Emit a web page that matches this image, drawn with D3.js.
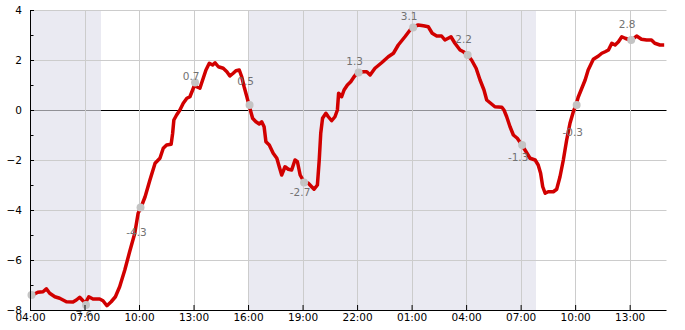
<!DOCTYPE html>
<html>
<head>
<meta charset="utf-8">
<script src="https://cdn.jsdelivr.net/npm/d3@7"></script>
<style>
  body { margin:0; background:white; }
  text { font-family:"DejaVu Sans", sans-serif; }
</style>
</head>
<body>
<svg></svg>
<script>

// minutes after 04:00 on the first day
var lineMinutes = [0,26,43,54,65,82,98,120,142,153,164,175,183,194,208,230,241,254,268,282,
  296,313,329,346,357,366,380,396,413,429,440,451,466,471,475,484,495,506,518,528,
  537,545,550,561,570,581,592,603,611,622,638,650,660,671,680,691,699,707,716,723,
  735,746,757,765,773,779,790,803,815,823,831,842,853,864,875,883,892,905,919,930,
  938,949,955,960,966,977,985,996,1007,1015,1019,1029,1037,1048,1059,1070,1082,1101,1112,1123,
  1139,1161,1183,1200,1216,1238,1255,1266,1282,1299,1315,1328,1343,1359,1370,1381,1390,1403,1420,1431,
  1445,1458,1473,1486,1499,1508,1524,1535,1558,1565,1574,1585,1596,1609,1624,1638,1651,1668,1678,1686,
  1693,1701,1711,1728,1739,1750,1761,1772,1783,1794,1803,1810,1822,1833,1843,1860,1877,1888,1899,1910,
  1921,1932,1943,1954,1965,1981,1994,2003,2019,2036,2052,2063,2080,2094];
var lineValues = [-7.45,-7.29,-7.27,-7.15,-7.33,-7.47,-7.53,-7.67,-7.68,-7.6,-7.49,-7.63,-7.72,-7.47,-7.56,-7.56,-7.63,-7.83,-7.67,-7.47,
  -7.07,-6.4,-5.67,-4.93,-4.13,-3.91,-3.47,-2.8,-2.13,-1.93,-1.53,-1.4,-1.37,-0.93,-0.4,-0.2,0,0.27,0.47,0.53,
  0.8,1.05,0.93,0.87,1.2,1.6,1.87,1.8,1.89,1.73,1.67,1.53,1.36,1.47,1.57,1.6,1.33,0.93,0.53,0.2,
  -0.33,-0.47,-0.56,-0.47,-0.67,-1.27,-1.4,-1.73,-1.93,-2.27,-2.6,-2.27,-2.37,-2.4,-2.0,-2.07,-2.6,-2.88,-2.93,-3.07,
  -3.17,-3.0,-2.0,-0.93,-0.33,-0.13,-0.27,-0.43,-0.27,0,0.67,0.53,0.8,1.0,1.13,1.33,1.5,1.53,1.53,1.4,
  1.67,1.89,2.13,2.27,2.6,2.93,3.2,3.33,3.4,3.37,3.33,3.07,2.96,2.96,2.8,2.87,2.93,2.67,2.4,2.33,
  2.2,2.0,1.67,1.2,0.8,0.4,0.24,0.13,0.11,0,-0.27,-0.67,-1.0,-1.13,-1.4,-1.67,-1.93,-2.0,-2.2,-2.53,
  -3.07,-3.33,-3.27,-3.27,-3.17,-2.67,-2.0,-1.2,-0.53,-0.07,0.2,0.51,0.87,1.2,1.6,2.03,2.16,2.27,2.33,2.4,
  2.67,2.6,2.73,2.93,2.87,2.8,2.87,2.96,2.83,2.8,2.8,2.67,2.6,2.6];

var markerMinutes = [5,185,365,545,725,905,1085,1265,1445,1625,1805,1985];
var markerValues = [-7.4,-7.8,-3.9,1.1,0.2,-2.9,1.5,3.3,2.2,-1.4,0.2,2.8];
var labelValues = [null,-7.6,-4.3,0.7,0.5,-2.7,1.3,3.1,2.2,-1.3,-0.3,2.8];

var bandMinutes = [[0,234],[720,1671]];
var yTicks = [-8,-6,-4,-2,0,2,4];
var yMinorTicks = [-7,-5,-3,-1,1,3];

var start = new Date(2024,0,1,4,0);
var toDate = function(m) { return new Date(start.getTime()+m*60000); };

var screen = { width:685, height:330 };
var margins = { top:10, bottom:20, left:30, right:19 };
var width = screen.width - margins.left - margins.right;
var height = screen.height - margins.top - margins.bottom;

var svg = d3.select("svg")
  .attr("width",screen.width)
  .attr("height",screen.height);

var xScale = d3.scaleTime()
  .domain([start,toDate(2100)])
  .range([0,width]);
var yScale = d3.scaleLinear().domain([-8,4]).range([height,0]);

//half pixel so 1px lines stay crisp
var plot = svg.append("g")
  .attr("transform","translate("+margins.left+","+margins.top+")");
var grid = plot.append("g").attr("transform","translate(0.5,0.5)");

svg.append("defs").append("clipPath").attr("id","clip")
  .append("rect").attr("x",0).attr("y",0).attr("width",width).attr("height",height);
svg.select("defs").append("clipPath").attr("id","labelclip")
  .append("rect").attr("x",-10).attr("y",-10).attr("width",width+20).attr("height",height+16);

var drawBands = function(opacity)
{
  grid.append("g").selectAll("rect")
    .data(bandMinutes)
    .enter()
    .append("rect")
    .attr("x",function(d){ return Math.round(xScale(toDate(d[0])))-0.5;})
    .attr("y",-0.5)
    .attr("width",function(d){ return Math.round(xScale(toDate(d[1]))-xScale(toDate(d[0])));})
    .attr("height",height)
    .attr("fill","#eaeaf2")
    .attr("fill-opacity",opacity);
}
drawBands(1);

//zero line, dimmed inside the bands
grid.append("line")
  .attr("x1",0).attr("x2",width)
  .attr("y1",yScale(0)).attr("y2",yScale(0))
  .attr("stroke","black");
drawBands(0.62);

var xTicks = d3.range(0,2100,180).map(toDate);

//grid
grid.append("g").selectAll("line")
  .data(xTicks.slice(1))
  .enter()
  .append("line")
  .attr("x1",function(d){ return Math.round(xScale(d));})
  .attr("x2",function(d){ return Math.round(xScale(d));})
  .attr("y1",0).attr("y2",height)
  .attr("stroke","#cccccc");
grid.append("g").selectAll("line")
  .data(yTicks.filter(function(d){ return d!=0 && d!=-8;}))
  .enter()
  .append("line")
  .attr("x1",0).attr("x2",width)
  .attr("y1",function(d){ return yScale(d);})
  .attr("y2",function(d){ return yScale(d);})
  .attr("stroke","#cccccc");

var line = d3.line()
  .x(function(d){ return xScale(toDate(d.m));})
  .y(function(d){ return yScale(d.v);});

var points = lineMinutes.map(function(m,i){ return {m:m, v:lineValues[i]}; });

plot.append("path")
  .datum(points)
  .attr("clip-path","url(#clip)")
  .attr("d",line)
  .attr("fill","none")
  .attr("stroke","#d10000")
  .attr("stroke-width",3.5)
  .attr("stroke-linejoin","round");

var markers = markerMinutes.map(function(m,i)
{
  return {m:m, v:markerValues[i], label:labelValues[i]};
});

plot.append("g").selectAll("circle")
  .data(markers)
  .enter()
  .append("circle")
  .attr("cx",function(d){ return xScale(toDate(d.m));})
  .attr("cy",function(d){ return yScale(d.v);})
  .attr("r",4)
  .attr("fill","#c4c4c4");

plot.append("g")
  .attr("clip-path","url(#labelclip)")
  .selectAll("text")
  .data(markers.filter(function(d){ return d.label!=null;}))
  .enter()
  .append("text")
  .attr("x",function(d){ return xScale(toDate(d.m))-4;})
  .attr("y",function(d){ return yScale(d.label)+(d.label>=0 ? -16 : 15)+3.6;})
  .attr("text-anchor","middle")
  .attr("font-size","10.5px")
  .attr("fill","#727272")
  .text(function(d){ return d.label.toFixed(1);});

//axes
var xAxis = d3.axisBottom(xScale)
  .tickValues(xTicks)
  .tickFormat(d3.timeFormat("%H:%M"))
  .tickSizeInner(-5)
  .tickSizeOuter(0)
  .tickPadding(4);
var xg = plot.append("g")
  .attr("transform","translate(0,"+height+")")
  .call(xAxis);

var yAxis = d3.axisLeft(yScale)
  .tickValues(yTicks)
  .tickFormat(d3.format("d"))
  .tickSizeInner(-4)
  .tickSizeOuter(0)
  .tickPadding(8);
var yg = plot.append("g").call(yAxis);

grid.append("g").selectAll("line")
  .data(yMinorTicks)
  .enter()
  .append("line")
  .attr("x1",0).attr("x2",3)
  .attr("y1",function(d){ return yScale(d);})
  .attr("y2",function(d){ return yScale(d);})
  .attr("stroke","black");

[xg,yg].forEach(function(g)
{
  g.selectAll("text").attr("font-size","10.5px").attr("fill","black")
    .attr("font-family","DejaVu Sans, sans-serif");
  g.selectAll("line").attr("stroke","black");
  g.select(".domain").attr("stroke","black");
});

</script>
</body>
</html>
